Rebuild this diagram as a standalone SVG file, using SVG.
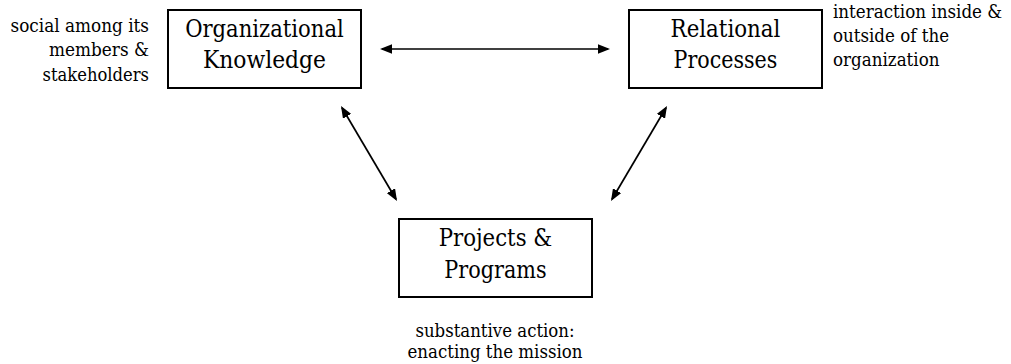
<svg xmlns="http://www.w3.org/2000/svg" width="1011" height="364" viewBox="0 0 1011 364">
  <style>
    .box { fill: #ffffff; stroke: #000000; stroke-width: 2; }
    text { font-family: 'DejaVu Serif', 'Liberation Serif', serif; fill: #000000; }
    .title { font-size: 24.2px; text-anchor: middle; }
    .note { font-size: 19.3px; }
    .link { stroke: #000000; stroke-width: 1.7; fill: none; marker-start: url(#head); marker-end: url(#head); }
  </style>
  <defs>
    <!-- filled triangular arrowhead, shared by both ends of every connector -->
    <marker id="head" markerUnits="userSpaceOnUse" markerWidth="12" markerHeight="9.5" refX="10" refY="4.75" orient="auto-start-reverse" viewBox="0 0 12 9.5">
      <path d="M0,0 L12,4.75 L0,9.5 z" fill="#000000"/>
    </marker>
  </defs>
  <rect width="1011" height="364" fill="#ffffff"/>

  <g id="connectors">
    <line class="link" x1="382" y1="49" x2="608" y2="49"/>
    <line class="link" x1="342" y1="107.7" x2="396" y2="199.3"/>
    <line class="link" x1="666" y1="107.7" x2="612" y2="199.3"/>
  </g>

  <g id="organizational-knowledge">
    <rect class="box" x="168" y="10" width="193" height="78"/>
    <text class="title" x="264.5" y="36.7" textLength="158.7" lengthAdjust="spacingAndGlyphs">Organizational</text>
    <text class="title" x="264.5" y="68.3" textLength="123.1" lengthAdjust="spacingAndGlyphs">Knowledge</text>
    <text class="note" text-anchor="end" x="149" y="31.7" textLength="138.5" lengthAdjust="spacingAndGlyphs">social among its</text>
    <text class="note" text-anchor="end" x="149" y="56" textLength="100" lengthAdjust="spacingAndGlyphs">members &amp;</text>
    <text class="note" text-anchor="end" x="149" y="81" textLength="106.5" lengthAdjust="spacingAndGlyphs">stakeholders</text>
  </g>

  <g id="relational-processes">
    <rect class="box" x="629" y="10" width="193" height="78"/>
    <text class="title" x="725.5" y="36.7" textLength="109.8" lengthAdjust="spacingAndGlyphs">Relational</text>
    <text class="title" x="725.5" y="68.3" textLength="103.8" lengthAdjust="spacingAndGlyphs">Processes</text>
    <text class="note" x="833" y="18.3" textLength="169.2" lengthAdjust="spacingAndGlyphs">interaction inside &amp;</text>
    <text class="note" x="833" y="42" textLength="116" lengthAdjust="spacingAndGlyphs">outside of the</text>
    <text class="note" x="833" y="65.7" textLength="106.5" lengthAdjust="spacingAndGlyphs">organization</text>
  </g>

  <g id="projects-programs">
    <rect class="box" x="399" y="219" width="193" height="78"/>
    <text class="title" x="495.5" y="246" textLength="113.5" lengthAdjust="spacingAndGlyphs">Projects &amp;</text>
    <text class="title" x="495.5" y="277.5" textLength="102.3" lengthAdjust="spacingAndGlyphs">Programs</text>
    <text class="note" text-anchor="middle" x="495" y="337" textLength="159.2" lengthAdjust="spacingAndGlyphs">substantive action:</text>
    <text class="note" text-anchor="middle" x="495" y="358" textLength="175.1" lengthAdjust="spacingAndGlyphs">enacting the mission</text>
  </g>
</svg>
